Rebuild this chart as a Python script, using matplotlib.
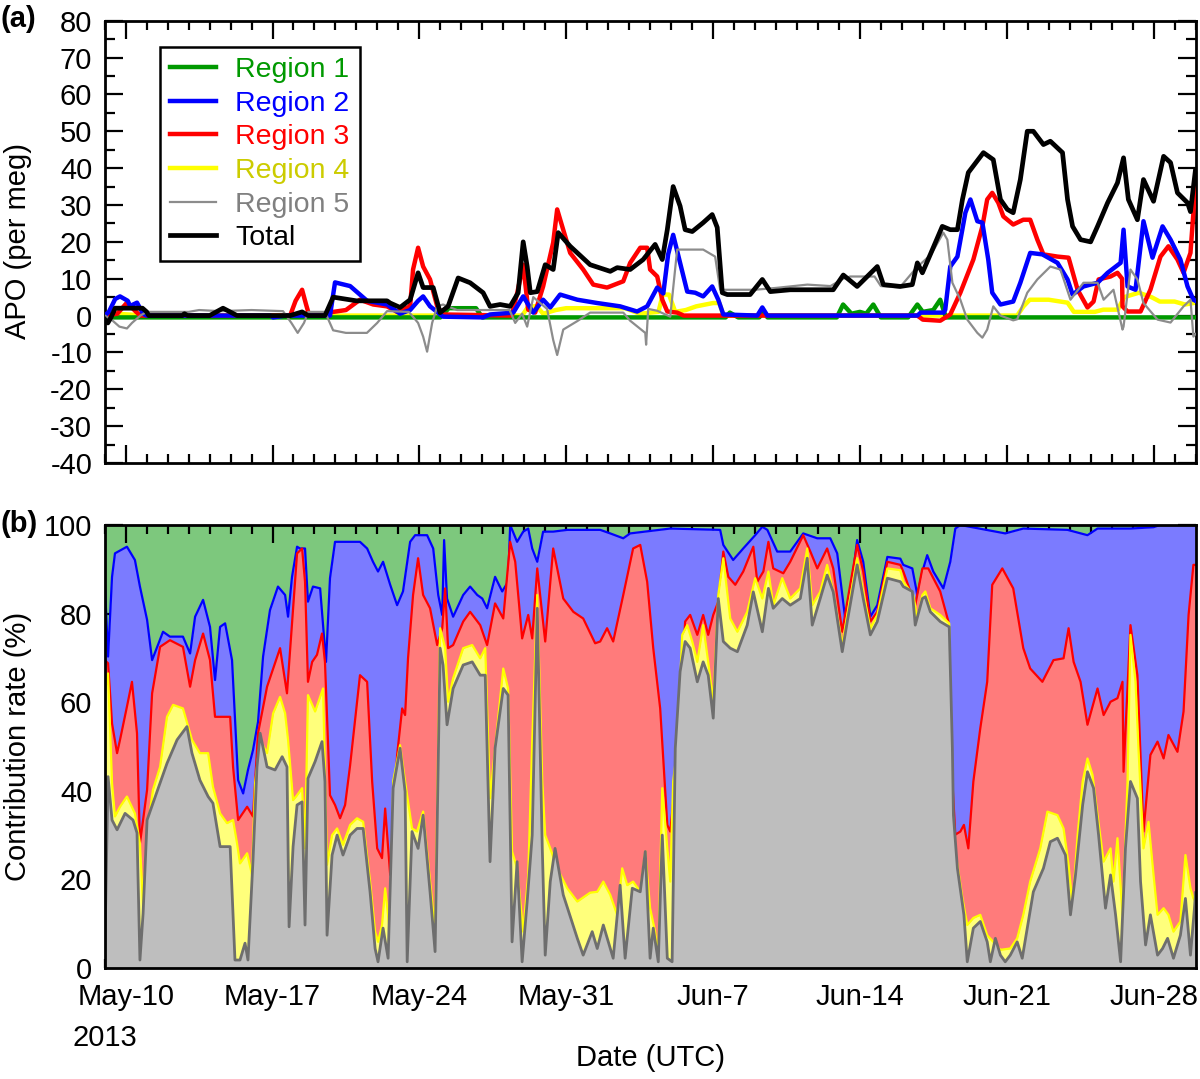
import numpy as np
import matplotlib
matplotlib.use("Agg")
import matplotlib.pyplot as plt
from matplotlib.ticker import MultipleLocator, FixedLocator

plt.rcParams['font.family'] = ['Liberation Sans', 'DejaVu Sans']
plt.rcParams['axes.unicode_minus'] = False

# ---------------- data (t = days since 2013-05-09 00:00 UTC) ----------------
week_ticks = [1, 8, 15, 22, 29, 36, 43, 50]
week_labels = ["May-10", "May-17", "May-24", "May-31", "Jun-7", "Jun-14", "Jun-21", "Jun-28"]

# Panel (a): APO contributions (per meg)
total_t = [0.0, 0.15, 0.3, 0.5, 1.8, 2.0, 2.1, 3.7, 3.8, 3.95, 5.0, 5.64, 6.31, 8.84, 9.41, 9.7, 10.5, 10.89, 12.0, 13.46, 13.61,
           14.08, 14.56, 14.94, 15.18, 15.66, 15.99, 16.37, 16.85, 17.42, 18.04, 18.37, 18.85, 19.33, 19.71, 19.95, 20.14,
           20.29, 20.62, 21.0, 21.38, 21.62, 22.19, 23.14, 24.10, 24.43, 25.05, 25.67, 26.24, 26.58, 26.82, 27.10, 27.43,
           27.67, 28.01, 28.53, 28.96, 29.20, 29.44, 29.68, 30.77, 31.35, 31.73, 32.68, 34.73, 35.21, 35.87, 36.35, 36.83,
           37.12, 37.93, 38.50, 38.74, 38.98, 39.36, 39.93, 40.31, 40.65, 40.89, 41.17, 41.89, 42.36, 42.70, 43.03, 43.31,
           43.65, 43.98, 44.27, 44.75, 45.08, 45.66, 45.90, 46.14, 46.52, 47.0, 47.33, 47.81, 48.28, 48.57, 48.80, 49.23,
           49.52, 50.0, 50.48, 50.81, 51.14, 51.62, 51.76, 52.0]
total_v = [-1, -2, -0.5, 2, 2, 1, 0, 0, 0.5, 0, 0, 2, 0, 0, 1, 0, 0, 5, 4, 4, 3.4,
           2.2, 4.3, 11.6, 7.6, 7.6, 0.8, 2.5, 10.2, 8.9, 6.2, 2.5, 3, 2.5, 6.2, 20, 13.3,
           6.2, 6.5, 13.8, 12.5, 22.5, 18.8, 13.8, 12, 13, 12.5, 15.2, 19.3, 15.2, 23.3, 35, 29.7,
           23.3, 22.8, 25.2, 27.4, 23.9, 6.2, 5.7, 5.7, 9.8, 6.5, 7, 7, 11, 7.9, 10.6, 13.3,
           8.4, 7.9, 8.4, 14.3, 11.6, 16.6, 24.2, 23.3, 23.3, 31.5, 38.8, 44.2, 42.3, 31.5, 28.8, 27.9,
           36.9, 50, 50, 46.4, 47.3, 44.2, 31.5, 24.2, 20.6, 20, 24.2, 30.6, 36, 42.8, 31.5, 26,
           36.9, 31, 43.2, 41.5, 33.3, 30.6, 28.2, 39.6]

r1_t = [0, 16.0, 16.4, 17.7, 18.0, 29.6, 29.8, 30.2, 31.2, 31.4, 31.6, 34.9, 35.2, 35.6, 36.0, 36.3, 36.64, 37.0,
        38.3, 38.74, 39.0, 39.5, 39.83, 40.1, 52]
r1_v = [-0.5, -0.5, 2, 2, -0.5, -0.5, 0.8, -0.5, -0.5, 0.8, -0.5, -0.5, 3, 0.5, 1, 0.5, 3, -0.5,
        -0.5, 3, 1, 1.5, 4.3, -0.5, -0.5]

r2_t = [0, 0.2, 0.5, 0.73, 1.1, 1.21, 1.54, 1.83, 2.0, 7.9, 8.03, 8.6, 10.74, 10.98, 11.7, 12.51, 13.46, 14.08, 14.56,
        14.94, 15.18, 15.51, 16.13, 18.04, 18.37, 19.48, 19.95, 20.43, 20.90, 21.24, 21.71, 22.53, 23.48, 24.57, 25.38,
        25.86, 26.34, 26.63, 26.86, 27.10, 27.43, 27.77, 28.15, 28.53, 28.96, 29.25, 29.49, 31.11, 31.35, 31.59, 38.74,
        38.9, 40.0, 40.07, 40.31, 40.65, 41.03, 41.27, 41.60, 41.84, 42.12, 42.31, 42.70, 43.31, 43.65, 44.12, 44.70,
        45.42, 45.90, 46.14, 46.66, 47.33, 47.81, 48.43, 48.57, 48.76, 49.14, 49.52, 49.95, 50.43, 50.81, 51.28, 51.62,
        51.90, 52.0]
r2_v = [0, 1, 4.5, 5.2, 4, 2.6, 3.5, 0.5, 0, 0, -0.5, 0, 0, 9, 8, 4, 3, 0.5, 1.5,
        4, 5.2, 2.5, -0.3, -0.5, 0.3, 0.8, 5.2, 0.8, 4.3, 2.2, 5.7, 4.3, 3.4, 2.5, 1.1,
        2.5, 7.6, 6, 16.6, 21.9, 14.3, 6.5, 6.2, 5.2, 7.9, 4.3, 0.3, 0, 2.2, 0, 0,
        0.8, 0.8, 1.6, 13.3, 16, 27.9, 31.5, 25.6, 25.2, 15.2, 6.2, 3, 3.8, 8.9, 17, 16.6,
        14.3, 9.8, 5.7, 7.9, 8.9, 11.6, 14.3, 23.3, 7.9, 7, 25.6, 15.7, 24.2, 20.6, 15.2, 7.9,
        4.3, 4]

r3_t = [0, 0.6, 1.06, 1.5, 1.7, 8.84, 9.1, 9.41, 9.6, 9.75, 10.9, 11.5, 12.17, 12.8, 13.46, 13.94, 14.56, 14.70, 14.94,
        15.18, 15.51, 15.85, 16.13, 19.4, 19.66, 19.95, 20.19, 20.52, 20.90, 21.38, 21.57, 21.81, 22.19, 22.81, 23.29,
        23.95, 24.72, 25.05, 25.53, 25.86, 26.0, 26.34, 26.58, 26.82, 27.29, 27.6, 38.74, 39.0, 39.83, 40.31, 40.79,
        41.41, 41.84, 42.07, 42.31, 42.60, 42.84, 43.31, 43.79, 44.12, 44.46, 44.75, 45.42, 45.95, 46.38, 46.85, 47.14,
        47.38, 47.95, 48.28, 48.50, 48.52, 48.76, 49.38, 49.85, 50.33, 50.71, 51.14, 51.43, 51.76, 51.90, 52.0]
r3_v = [0, 0.5, 3.5, 1, 0, 0, 4, 7, 3, 0, 1, 1.5, 4.3, 3, 2.5, 1, 2.5, 12.5, 18.4,
        13.3, 9.8, 2.5, 0.3, 0, 6, 13.8, 1.6, 0.8, 7.9, 19.8, 28.8, 24.2, 17, 12.5, 8.4,
        7.6, 9.3, 14.3, 18.4, 18.4, 12.5, 10.6, 4.3, 1.1, 0.8, 0, 0, -1.1, -1.4, 0.3, 6.2,
        15.2, 24.2, 31.5, 33.3, 30.6, 26.9, 24.7, 26, 26, 20.6, 16.6, 16, 15.7, 7, 2.2, 3.8,
        9.8, 10.6, 11.6, 10, 2.5, 1.1, 1.1, 7, 16, 18.8, 15.2, 11.6, 17, 27.9, 36.9]

r4_t = [0, 0.5, 2.0, 19.9, 20.2, 20.6, 20.9, 21.5, 22.0, 24.8, 25.5, 26.4, 26.6, 26.9, 27.2, 27.7, 28.2, 29.0, 29.3,
        29.5, 43.5, 43.8, 44.1, 45.0, 45.9, 46.2, 47.2, 47.6, 48.3, 48.6, 49.3, 49.9, 50.3, 51.0, 51.5, 52.0]
r4_v = [0, 0.5, 0, 0, 2.5, 2.5, 0.5, 1.5, 2, 2, 0.5, 1, 5.7, 5.7, 1, 1.5, 2.5, 3.4, 3.4,
        0, 0, 2.5, 4.3, 4.3, 3.5, 1, 1, 1.6, 1.6, 5, 6.2, 5, 3.8, 3.8, 3, 3.5]

r5_t = [0, 0.3, 0.7, 1.06, 1.3, 1.7, 2.0, 4.0, 4.5, 5.5, 7.0, 8.5, 8.9, 9.2, 9.5, 9.7, 10.5, 10.89, 11.5, 12.5, 12.99,
        13.46, 14.5, 14.94, 15.18, 15.37, 15.61, 15.85, 16.13, 16.8, 19.3, 19.57, 19.90, 20.14, 20.43, 21.09, 21.38,
        21.57, 21.86, 22.53, 23.14, 24.72, 25.05, 25.77, 25.81, 25.91, 26.34, 26.96, 27.29, 28.53, 29.10, 29.34, 31.0,
        32.0, 33.5, 34.6, 35.2, 35.54, 36.7, 37.0, 37.9, 38.7, 39.4, 39.98, 40.17, 40.41, 40.79, 41.12, 41.60, 41.84,
        42.07, 42.36, 42.70, 43.31, 43.50, 43.98, 44.46, 45.08, 45.56, 46.04, 46.66, 47.33, 47.62, 48.09, 48.52, 48.57,
        48.90, 49.23, 49.52, 50.19, 50.81, 51.43, 51.76, 51.90, 52.0]
r5_v = [0, -1, -3, -3.5, -2, 0, 1, 1, 1.5, 1.2, 1.5, 1.2, -2, -4.7, -2, 1, 1, -4, -4.7, -4.7, -2,
        1.2, 1, -2, -5.7, -9.8, -2, 2.5, 3, 1.5, 1.5, -2, 0.5, -3, 5, 1.8, -6.6,
        -10.7, -3.8, -1.5, 0.8, 0.8, -1.4, -4.7, -7.9, 1.8, 1.3, -0.3, 17.9, 17.9, 16, 7, 7,
        7.5, 8.4, 8, 10, 10.6, 10.6, 8, 7.6, 13, 16.6, 22.5, 20.6, 8.9, 4.3, -1.1, -4.7, -6,
        -3.8, 2.5, 0, -1.3, -1, 6.2, 9.8, 13.3, 12.5, 4.3, 8.9, 8.9, 4.3, 7, -3.8, -3,
        12.5, 9.8, 3.4, -1.1, -1.9, 2.5, 4.3, -5.7, -5]

# Panel (b): cumulative contribution rate (%) — upper edge of each stacked band
cum_r2_t = [0.0, 0.16, 0.35, 0.49, 1.06, 1.44, 1.68, 2.02, 2.26, 2.78, 3.11, 3.73, 4.07, 4.31, 4.69, 5.02, 5.26, 5.50, 5.74,
            6.07, 6.36, 6.60, 6.83, 7.07, 7.31, 7.55, 7.88, 8.26, 8.60, 8.74, 8.93, 9.17, 9.31, 9.55, 9.69, 9.93, 10.27,
            10.55, 10.74, 10.98, 12.17, 12.51, 12.79, 13.03, 13.27, 13.61, 13.94, 14.22, 14.56, 14.80, 15.37, 15.66, 15.90,
            16.09, 16.18, 16.32, 16.61, 17.09, 17.42, 17.76, 18.0, 18.23, 18.61, 18.95, 19.23, 19.33, 19.66, 19.95, 20.19,
            20.38, 20.62, 20.90, 21.38, 22.05, 23.62, 24.10, 24.72, 25.05, 26.96, 29.34, 29.49, 29.96, 30.44, 31.01, 31.35,
            31.59, 32.06, 32.68, 33.30, 33.97, 34.59, 34.92, 35.30, 35.54, 35.87, 36.16, 36.50, 36.83, 37.31, 37.93, 38.07,
            38.50, 38.74, 38.98, 39.21, 39.50, 39.98, 40.31, 40.55, 40.79, 42.93, 43.79, 45.90, 46.85, 47.33, 48.90, 50.0,
            50.3, 52.0]
cum_r2_v = [87.6, 70.3, 88.3, 93.6, 95.1, 92.1, 86.1, 78.6, 69.5, 75.9, 74.8, 74.8, 71, 79.3, 83.1, 77, 65, 77, 77.8,
            69.5, 42.4, 39.4, 44.7, 49.2, 55.6, 70.3, 80.8, 86.1, 84.2, 79.3, 88.3, 95.1, 94.7, 94.7, 82.7, 86.1, 85.7,
            69.1, 88, 96.2, 96.2, 94.7, 91.7, 89.5, 91.7, 86.5, 81.9, 85, 96.2, 97.7, 97.7, 94.7, 84.2,
            79.7, 96.6, 83.4, 79.3, 84.2, 86.1, 84.2, 83.4, 81.2, 88.3, 85, 87.2, 100, 96.2, 98.5, 99.2,
            94.7, 91.7, 98.5, 98.5, 98.9, 98.9, 98.1, 97, 98.1, 99.2, 98.9, 95.5, 92.1, 94.7, 97.7, 99.6,
            98.9, 94, 94, 98.1, 97, 97, 93.6, 78.9, 84.2, 96.6, 91.7, 79.3, 81.9, 92.8, 92.4, 91,
            90.2, 84.2, 89.5, 93.2, 89.5, 85.7, 91.7, 99.2, 100, 98.1, 99.2, 98.9, 97.7, 99.2, 99.2, 99.5,
            100, 100]

cum_r3_t = [0.0, 0.16, 0.35, 0.59, 0.73, 1.06, 1.30, 1.54, 1.68, 2.02, 2.26, 2.64, 3.11, 3.73, 4.07, 4.31, 4.69, 5.02, 5.26,
            5.98, 6.12, 6.36, 6.79, 7.07, 7.31, 7.74, 8.36, 8.69, 8.93, 9.17, 9.41, 9.55, 9.69, 9.89, 10.12, 10.36, 10.50,
            10.74, 10.98, 11.22, 11.46, 11.70, 12.17, 12.51, 12.75, 12.99, 13.22, 13.37, 13.61, 13.94, 14.18, 14.32, 14.46,
            14.70, 14.94, 15.18, 15.51, 15.85, 16.09, 16.23, 16.37, 16.61, 17.09, 17.42, 17.90, 18.23, 18.61, 19.0, 19.33,
            19.57, 19.90, 20.19, 20.38, 20.62, 20.86, 21.0, 21.38, 21.86, 22.34, 22.81, 23.38, 23.62, 23.95, 24.24, 24.72,
            25.19, 25.53, 25.86, 26.15, 26.48, 26.82, 26.96, 27.20, 27.43, 27.67, 27.91, 28.25, 28.53, 28.77, 29.01, 29.25,
            29.49, 29.73, 30.06, 30.44, 30.92, 31.11, 31.40, 31.64, 31.87, 32.35, 32.68, 33.30, 33.64, 33.97, 34.44, 34.73,
            35.16, 35.40, 35.87, 36.16, 36.50, 36.83, 37.31, 37.93, 38.07, 38.64, 38.98, 39.26, 39.83, 40.22, 40.41, 40.55,
            40.79, 40.96, 41.17, 41.41, 41.74, 42.07, 42.31, 42.79, 43.31, 43.79, 44.12, 44.70, 45.23, 45.71, 45.95, 46.19,
            46.52, 46.85, 47.33, 47.62, 47.95, 48.28, 48.52, 48.57, 48.90, 49.23, 49.52, 49.85, 50.19, 50.48, 50.71, 51.14,
            51.43, 51.67, 51.90, 52.0]
cum_r3_v = [69.5, 68.8, 55.2, 48.5, 51.5, 59, 64.6, 53, 28.1, 40.2, 62, 72.5, 74, 72.5, 63.5, 69.5, 75.5, 69.5, 56.7,
            56.7, 45.4, 33.4, 36.4, 34.2, 53, 63.5, 72.2, 62, 77.8, 93.6, 94.7, 87.2, 64.6, 69.1, 70.7, 75.5, 69.1,
            39, 36.8, 33.8, 36.8, 45.8, 66.1, 64.6, 42.1, 27, 24.8, 36, 21, 48.1, 58.6, 57.1, 69.9,
            84.2, 92.5, 84.2, 81.2, 72.9, 76.7, 85.7, 72.2, 72.9, 78.2, 80.4, 77.4, 72.9, 82.3, 78.9, 96.2,
            91.7, 74.4, 79.7, 74.4, 90.2, 79.7, 73.7, 94.7, 83.4, 80.4, 78.9, 73.3, 73.7, 76.7, 73.7, 84.2,
            94.7, 95.5, 87.2, 72.2, 58.6, 32.3, 30.8, 42.1, 57.1, 78.2, 79.7, 75.2, 79.7, 75.2, 79.7, 82.7,
            94, 88.3, 86.5, 89.5, 95.1, 87.2, 89.5, 96.2, 90.2, 89.1, 91.7, 97.7, 94, 90.2, 94.7, 90.2,
            75.9, 82.7, 95.5, 89.5, 78.2, 80.4, 91.7, 91, 89.5, 81.9, 90.2, 90.2, 85, 78.2, 42.1, 30.1,
            30.8, 32.3, 27, 42.1, 54.1, 64.6, 86.5, 90.2, 85.7, 72.2, 67.6, 64.6, 69.5, 69.9, 76.7, 69.1,
            64.6, 54.9, 63.1, 57.1, 60.1, 60.9, 64.6, 44.3, 77.4, 66.1, 30.8, 48.1, 51.1, 47.3, 52.6, 48.8,
            57.9, 79.7, 91, 91]

cum_r4_t = [0.0, 0.16, 0.35, 0.49, 0.73, 1.06, 1.44, 1.68, 1.83, 2.02, 2.30, 2.64, 2.97, 3.26, 3.73, 4.16, 4.54, 4.93, 5.16,
            5.50, 5.83, 6.12, 6.31, 6.45, 6.79, 7.02, 7.17, 7.41, 7.74, 8.03, 8.36, 8.60, 8.74, 8.98, 9.17, 9.41, 9.55,
            9.69, 10.03, 10.41, 10.60, 10.84, 11.08, 11.36, 11.70, 12.03, 12.32, 12.65, 12.89, 13.03, 13.22, 13.37, 13.61,
            13.75, 14.08, 14.32, 14.65, 14.89, 15.18, 15.51, 15.75, 15.99, 16.23, 16.37, 16.61, 17.09, 17.52, 17.90, 18.14,
            18.37, 18.61, 19.0, 19.23, 19.42, 19.66, 19.95, 20.19, 20.38, 20.62, 20.86, 21.0, 21.24, 21.57, 22.05, 22.53,
            23.14, 23.48, 23.77, 24.10, 24.43, 24.67, 24.91, 25.19, 25.53, 25.77, 26.0, 26.24, 26.39, 26.58, 26.82, 26.96,
            27.10, 27.29, 27.53, 27.77, 28.01, 28.25, 28.53, 28.77, 29.01, 29.25, 29.49, 29.82, 30.16, 30.63, 31.01, 31.35,
            31.64, 31.87, 32.30, 32.68, 33.16, 33.49, 33.73, 34.11, 34.44, 34.73, 35.16, 35.40, 35.87, 36.16, 36.50, 36.83,
            37.31, 37.93, 38.07, 38.55, 38.74, 38.98, 39.12, 39.36, 39.83, 40.26, 40.41, 40.65, 40.89, 41.12, 41.41, 41.74,
            42.07, 42.36, 42.70, 43.17, 43.50, 43.79, 44.12, 44.60, 44.94, 45.42, 45.71, 45.95, 46.14, 46.38, 46.62, 46.85,
            47.09, 47.33, 47.62, 47.95, 48.09, 48.28, 48.52, 48.76, 48.90, 49.14, 49.28, 49.52, 49.76, 50.0, 50.19, 50.48,
            50.71, 50.95, 51.28, 51.52, 51.76, 51.90, 52.0]
cum_r4_v = [62, 66.5, 41.7, 34.2, 36.4, 38.7, 34.9, 28.1, 13.8, 30.5, 40.2, 45.4, 56.7, 59.4, 58.6, 51.5, 48.5, 48.5, 40.9,
            34.9, 32.7, 33.4, 28.1, 23.6, 25.9, 21.1, 41.7, 51.5, 48.5, 57.5, 61.2, 57.5, 51.5, 37.9, 39, 40.6, 27,
            61.6, 57.9, 63.1, 23.3, 30, 31.5, 27.8, 32.3, 33.8, 33, 19.5, 8.2, 5.9, 9.7, 18, 7.4,
            42.1, 50.3, 42.1, 31.5, 30.8, 35.3, 19.5, 8.2, 76.7, 72.2, 60.1, 65.4, 72.2, 72.9, 69.9, 72.2,
            38.3, 49.6, 67.6, 63.1, 26.3, 22.5, 8.2, 21, 51.1, 84.2, 42.1, 30, 27, 22.5, 18, 15,
            17, 17.2, 19.5, 16.5, 12, 22.5, 18.7, 19.5, 17.2, 26.3, 13.5, 8.2, 2.2, 40.6, 27, 19.5,
            42.1, 49.6, 75.2, 77.4, 73.7, 69.1, 77.4, 69.1, 60.1, 84.2, 92.5, 78.9, 75.9, 80.4, 88, 83.4,
            89.5, 81.9, 88, 83.4, 85.7, 94.7, 81.9, 84.9, 91, 84.9, 72.9, 79.7, 92.5, 84.9, 76.7, 79.7,
            90.2, 89.8, 87.2, 84.2, 78.9, 84.2, 85, 81.2, 79.7, 77.8, 30.8, 23.3, 15.7, 9.7, 11.3, 12,
            7.4, 5.9, 4.1, 4.4, 6.7, 12, 19.5, 27, 35.3, 34.5, 31.5, 23.3, 14.2, 30, 42.1, 47.3,
            43.6, 34.5, 24, 27, 19.5, 29.3, 12, 42.1, 75.2, 64.6, 49.6, 27, 33, 21, 12, 13.5,
            12, 8.2, 10.5, 25.5, 18, 15.7, 15]

cum_r5_t = [0.0, 0.16, 0.35, 0.59, 0.97, 1.35, 1.54, 1.68, 1.83, 2.02, 2.30, 2.97, 3.45, 3.92, 4.16, 4.54, 4.93, 5.16, 5.50,
            5.98, 6.21, 6.45, 6.69, 6.83, 7.07, 7.26, 7.41, 7.74, 8.12, 8.46, 8.69, 8.79, 8.98, 9.17, 9.41, 9.55, 9.69,
            10.03, 10.36, 10.50, 10.60, 10.84, 11.08, 11.36, 11.70, 12.03, 12.32, 12.65, 12.89, 13.03, 13.27, 13.51, 13.75,
            14.08, 14.32, 14.42, 14.65, 14.94, 15.18, 15.51, 15.75, 15.99, 16.13, 16.32, 16.61, 17.09, 17.52, 17.90, 18.14,
            18.37, 18.61, 19.0, 19.23, 19.42, 19.66, 19.90, 20.14, 20.38, 20.62, 20.86, 21.0, 21.24, 21.47, 21.86, 22.53,
            22.81, 23.24, 23.48, 23.77, 24.10, 24.24, 24.57, 24.81, 25.15, 25.53, 25.77, 26.0, 26.15, 26.39, 26.58, 26.82,
            27.05, 27.20, 27.43, 27.67, 27.91, 28.25, 28.53, 28.77, 29.01, 29.25, 29.49, 29.82, 30.16, 30.63, 30.92, 31.35,
            31.64, 31.87, 32.30, 32.68, 33.16, 33.49, 33.73, 34.11, 34.44, 34.73, 35.16, 35.40, 35.87, 36.16, 36.50, 36.83,
            37.31, 37.93, 38.07, 38.50, 38.64, 38.98, 39.12, 39.36, 39.83, 40.26, 40.41, 40.46, 40.65, 40.96, 41.12, 41.41,
            41.74, 42.07, 42.22, 42.46, 42.70, 42.93, 43.17, 43.50, 43.74, 43.98, 44.27, 44.75, 45.08, 45.42, 45.80, 46.04,
            46.28, 46.62, 46.85, 47.14, 47.38, 47.71, 47.95, 48.19, 48.43, 48.66, 48.90, 49.23, 49.38, 49.62, 49.85, 50.19,
            50.43, 50.67, 50.95, 51.28, 51.52, 51.76, 51.95, 52.0]
cum_r5_v = [2.6, 43.2, 33.4, 31.2, 34.9, 33.4, 30.5, 1.8, 12.3, 33.4, 37.2, 46.2, 51.5, 54.5, 48.5, 42.4, 38.7, 37.2, 27.4,
            27.4, 1.8, 1.8, 5.6, 1.8, 24.4, 45.4, 53, 45.4, 44.7, 47.7, 45.4, 9.3, 27.4, 36.8, 37.5, 9.7, 42.8,
            46.6, 51.1, 42.1, 7.4, 25.5, 30, 25.5, 30, 31.5, 31.5, 17.2, 4.4, 1.4, 9, 2.2, 40.6,
            49.6, 39.8, 1.4, 30.8, 27, 34.5, 17.2, 3.7, 72.2, 68.4, 54.9, 63.1, 68.4, 69.1, 66.1, 66.1,
            24, 49.6, 63.1, 61.6, 5.9, 24, 1.4, 15, 30, 81.2, 27, 2.9, 19.5, 27, 16.5, 6.7,
            2.9, 8.2, 4.4, 9.7, 4.4, 2.2, 18.7, 2.2, 18, 17.2, 26.3, 2.2, 9, 1.4, 30, 2.2,
            1.4, 49.6, 66.9, 73.7, 72.2, 64.6, 69.1, 66.1, 56.4, 83.4, 73.7, 72.2, 71.4, 77.4, 84.9, 75.9,
            85.7, 81.2, 83.4, 81.9, 83.4, 92.5, 77.4, 83.4, 88.7, 84.9, 71.4, 78.2, 91, 83.4, 75.2, 78.2,
            88, 87.2, 86.1, 85, 77.4, 83.4, 83.8, 80.4, 78.2, 77, 49.6, 34.5, 22.5, 12, 1.4, 9,
            10.5, 5.9, 1.4, 6.7, 2.9, 1.4, 2.9, 5.9, 2.2, 9, 17.2, 22.5, 28.5, 29.3, 25.5, 12,
            21, 36.8, 44.3, 40.6, 30, 13.5, 21, 12, 1.4, 27, 42.1, 38.3, 19.5, 5.2, 12, 2.9,
            4.4, 6.7, 2.2, 7.4, 15.7, 2.9, 13.5, 17]

# ---------------- figure ----------------
W, H = 1200, 1079
fig = plt.figure(figsize=(W / 100, H / 100), dpi=100)

def px_axes(x0, y0, x1, y1):
    return fig.add_axes([x0 / W, 1 - y1 / H, (x1 - x0) / W, (y1 - y0) / H])

ax1 = px_axes(104.7, 20.7, 1195.5, 463.0)
ax2 = px_axes(104.7, 525.0, 1195.5, 968.0)

FS = 21

def style_axes(ax):
    ax.set_xlim(0, 52)
    ax.xaxis.set_major_locator(FixedLocator(week_ticks))
    ax.xaxis.set_minor_locator(MultipleLocator(1))
    for s in ax.spines.values():
        s.set_linewidth(2.0)
    ax.tick_params(which='both', direction='in', top=True, right=True, width=1.6, labelsize=FS, pad=9)
    ax.tick_params(axis='x', which='both', pad=11)
    ax.tick_params(which='major', length=13)
    ax.tick_params(which='minor', length=6.5)

# ---- panel (a)
style_axes(ax1)
ax1.set_ylim(-40, 80)
ax1.yaxis.set_major_locator(MultipleLocator(10))
ax1.yaxis.set_minor_locator(MultipleLocator(5))
ax1.tick_params(axis='y', which='minor', length=7.5)
ax1.set_xticklabels([])

l4, = ax1.plot(r4_t, r4_v, color='#ffff00', lw=3.2, label='Region 4', zorder=2)
l1, = ax1.plot(r1_t, r1_v, color='#009900', lw=3.2, label='Region 1', zorder=3)
l3, = ax1.plot(r3_t, r3_v, color='#ff0000', lw=3.2, label='Region 3', zorder=4)
l2, = ax1.plot(r2_t, r2_v, color='#0000ff', lw=3.2, label='Region 2', zorder=5)
l5, = ax1.plot(r5_t, r5_v, color='#8c8c8c', lw=1.6, label='Region 5', zorder=6)
lt, = ax1.plot(total_t, total_v, color='#000000', lw=3.4, label='Total', zorder=7)

handles = [l1, l2, l3, l4, l5, lt]
leg = ax1.legend(handles, [h.get_label() for h in handles], loc='upper left',
                 bbox_to_anchor=((160 - 104.7) / 1090.8, 1 - (47 - 20.7) / 442.3),
                 borderaxespad=0, fontsize=20.5, frameon=True, fancybox=False, framealpha=1,
                 edgecolor='black', handlelength=1.6, handletextpad=0.7, labelspacing=0.27,
                 borderpad=0.35)
leg.get_frame().set_linewidth(1.8)
txt_colors = ['#009900', '#0000ff', '#ff0000', '#cccc00', '#808080', '#000000']
for t, c in zip(leg.get_texts(), txt_colors):
    t.set_color(c)

# ---- panel (b)
style_axes(ax2)
ax2.set_ylim(0, 100)
ax2.yaxis.set_major_locator(MultipleLocator(20))
ax2.yaxis.set_minor_locator(FixedLocator([]))
ax2.set_xticklabels(week_labels)

ax2.fill_between(cum_r2_t, cum_r2_v, 100, color='#7dc87d', lw=0, zorder=1)
ax2.fill_between(cum_r2_t, 0, cum_r2_v, color='#7b7bff', lw=0, zorder=2)
ax2.plot(cum_r2_t, cum_r2_v, color='#0000ff', lw=1.6, zorder=2.5)
ax2.fill_between(cum_r3_t, 0, cum_r3_v, color='#ff7b7b', lw=0, zorder=3)
ax2.plot(cum_r3_t, cum_r3_v, color='#ff0000', lw=1.6, zorder=3.5)
ax2.fill_between(cum_r4_t, 0, cum_r4_v, color='#ffff7b', lw=0, zorder=4)
ax2.plot(cum_r4_t, cum_r4_v, color='#ffff00', lw=1.6, zorder=4.5)
ax2.fill_between(cum_r5_t, 0, cum_r5_v, color='#bebebe', lw=0, zorder=5)
ax2.plot(cum_r5_t, cum_r5_v, color='#6e6e6e', lw=2.0, zorder=5.5)
for s in ax2.spines.values():
    s.set_zorder(10)

# ---- labels
fig.text(18 / W, 1 - 241 / H, 'APO (per meg)', rotation=90, ha='center', va='center', fontsize=FS)
fig.text(18 / W, 1 - 746 / H, 'Contribution rate (%)', rotation=90, ha='center', va='center', fontsize=FS)
fig.text(650 / W, 1 - 1058 / H, 'Date (UTC)', ha='center', va='center', fontsize=FS)
fig.text(73 / W, 1 - 1038 / H, '2013', ha='left', va='center', fontsize=FS)
fig.text(1 / W, 1 - 5 / H, '(a)', ha='left', va='top', fontsize=FS, fontweight='bold')
fig.text(1 / W, 1 - 510 / H, '(b)', ha='left', va='top', fontsize=FS, fontweight='bold')

fig.savefig('out.png', dpi=100)
